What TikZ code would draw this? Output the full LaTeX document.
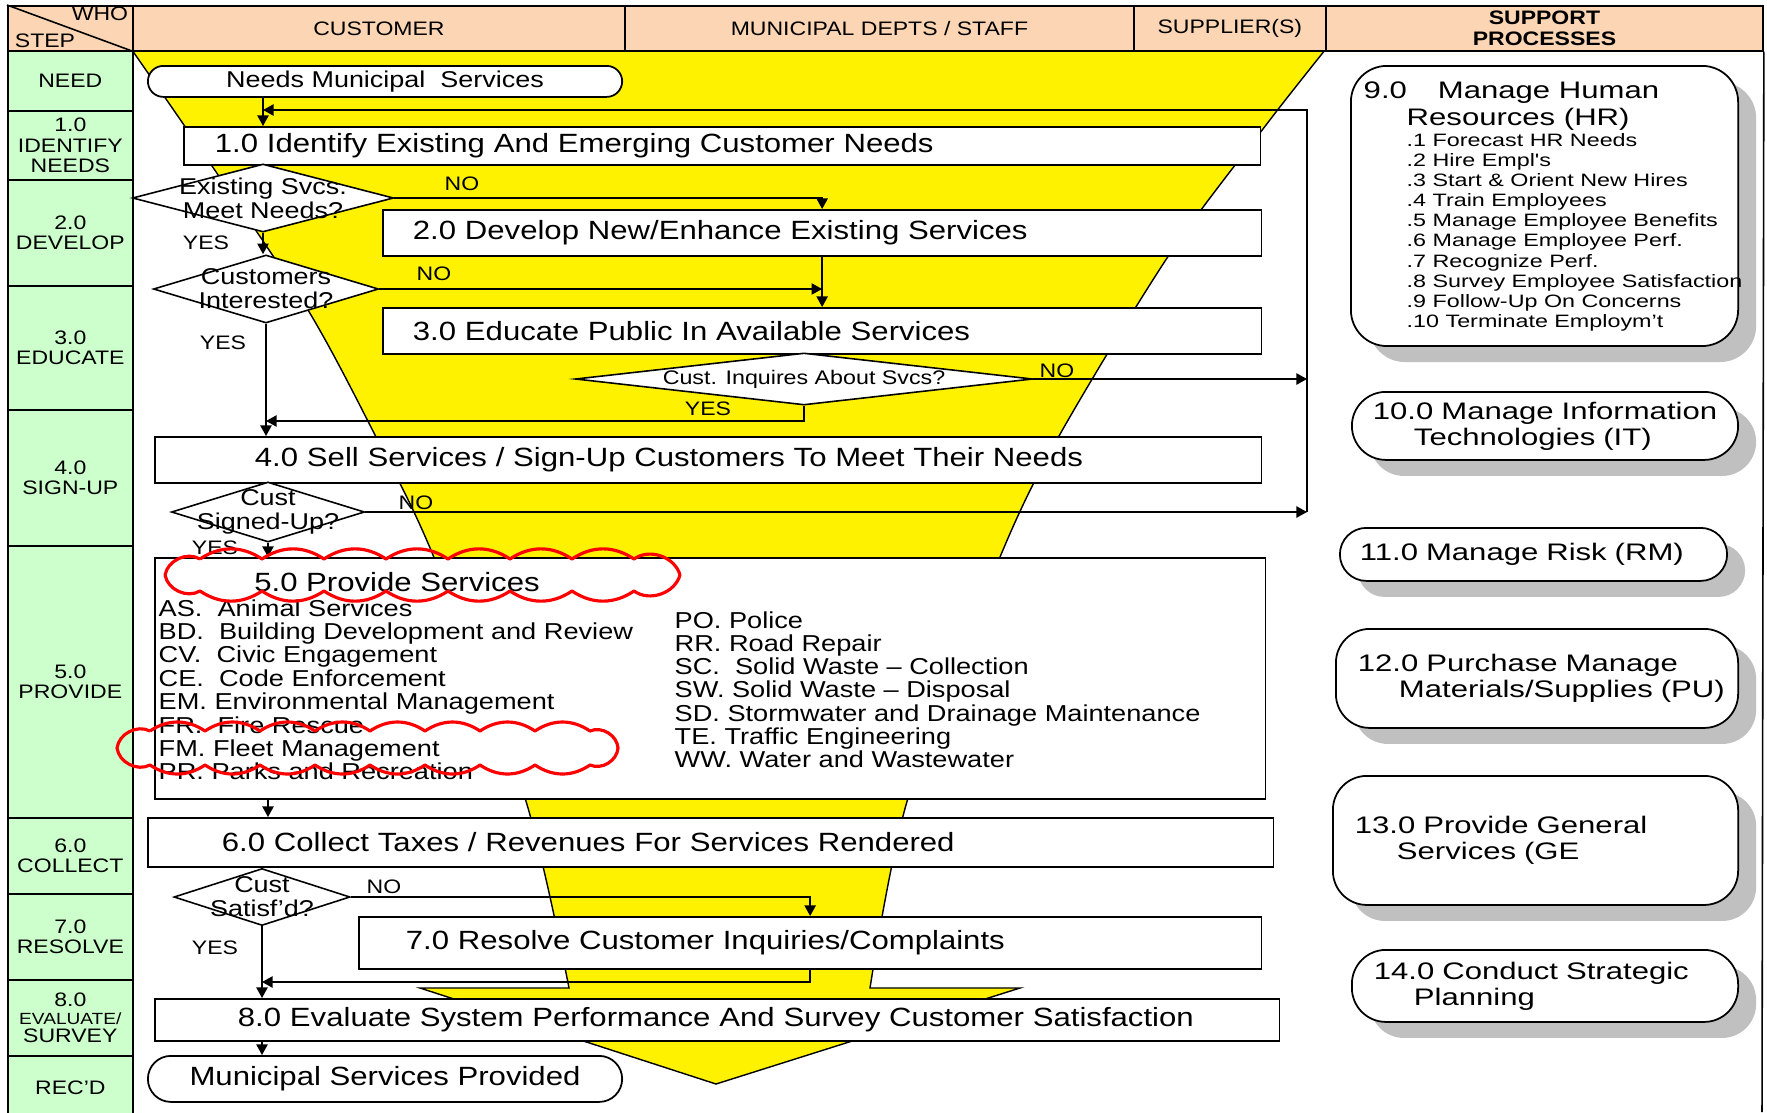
\documentclass[tikz,border=0pt]{standalone}
\usepackage{fontspec}
\setmainfont{Liberation Sans}[FakeStretch=1.18]
\newfontfamily\supfamily{Liberation Sans}[FakeStretch=1.3]
\usetikzlibrary{arrows.meta,shapes.geometric,shadows}

\definecolor{stepgreen}{RGB}{204,255,204}
\definecolor{headpeach}{RGB}{252,214,180}
\definecolor{shadegrey}{RGB}{192,192,192}

\newcommand\procfont{\fontsize{7.5}{8.5}\selectfont}
\newcommand\stepfont{\fontsize{5.55}{5.85}\selectfont}
\newcommand\askfont{\fontsize{6.5}{6.8}\selectfont}
\newcommand\itemfont{\fontsize{6.55}{6.65}\selectfont}
\newcommand\supfont{\supfamily\fontsize{6.8}{7.4}\selectfont}
\newcommand\hrfont{\supfamily\fontsize{5.1}{5.7}\selectfont}

\tikzset{
  funnel/.style={fill=yellow, draw=black, line width=0.4pt},
  headcell/.style={draw, fill=headpeach, anchor=north west, inner sep=0, font=\stepfont, line width=0.45pt},
  stepcell/.style={draw, fill=stepgreen, anchor=north west, inner sep=0, align=center, font=\stepfont, line width=0.45pt},
  procbox/.style={draw, fill=white, anchor=north west, inner sep=0, align=left, font=\procfont, line width=0.5pt},
  terminal/.style={draw, fill=white, anchor=north west, inner sep=0, line width=0.5pt},
  decision/.style={diamond, draw, fill=white, inner sep=0, line width=0.45pt},
  asktext/.style={font=\askfont, align=center, inner sep=0},
  lab/.style={font=\stepfont, inner sep=0},
  flow/.style={line width=0.4pt, -{Triangle[length=3pt,width=3.2pt]}},
  supbox/.style={draw, fill=white, anchor=north west, inner sep=0, align=left, font=\supfont, line width=0.5pt,
    drop shadow={shadow xshift=0.18cm, shadow yshift=-0.16cm, fill=shadegrey, opacity=1}},
  cloudline/.style={draw=red, line width=0.9pt, line join=round},
}

\begin{document}
\begin{tikzpicture}[x=0.01cm, y=-0.01cm]
    \useasboundingbox (0,0) rectangle (1767,1112);
    %% funnel
    \draw[funnel] plot[smooth] coordinates {(132,50) (210,163) (308,310) (375,435) (433,555) (525,798) (569,988)}
        -- (420,988) -- (716,1084) -- (1020,988) -- (870,988)
        -- plot[smooth] coordinates {(870,988) (908,798) (1000,557) (1059,436) (1169,255) (1266,125) (1325,50)} -- cycle;
    %% header
    \node[headcell, minimum width=1.25cm, minimum height=0.45cm] (corner) at (7,5) {};
    \draw[line width=0.45pt] (corner.north west) -- (corner.south east);
    \node[lab] (who) at (100,14) {WHO};
    \node[lab] (stp) at (45,41) {STEP};
    \node[headcell, minimum width=4.92cm, minimum height=0.45cm] (hcust) at (132,5) {CUSTOMER};
    \node[headcell, minimum width=5.09cm, minimum height=0.45cm] (hmuni) at (624,5) {MUNICIPAL DEPTS / STAFF};
    \node[headcell, minimum width=1.92cm, minimum height=0.45cm] (hsupp) at (1133,5) {SUPPLIER(S)};
    \node[headcell, minimum width=4.37cm, minimum height=0.45cm, align=center, font=\stepfont\bfseries] (hsup) at (1325,5) {SUPPORT\\PROCESSES};
    \draw[line width=0.45pt] (hsup.south east) -- (1762,1112);
    %% steps
    \node[stepcell, minimum width=1.25cm, minimum height=0.60cm] (sneed) at (7,50) {NEED};
    \node[stepcell, minimum width=1.25cm, minimum height=0.69cm] (sident) at (7,110) {1.0\\IDENTIFY\\NEEDS};
    \node[stepcell, minimum width=1.25cm, minimum height=1.06cm] (sdev) at (7,179) {2.0\\DEVELOP};
    \node[stepcell, minimum width=1.25cm, minimum height=1.24cm] (sedu) at (7,285) {3.0\\EDUCATE};
    \node[stepcell, minimum width=1.25cm, minimum height=1.36cm] (ssign) at (7,409) {4.0\\SIGN-UP};
    \node[stepcell, minimum width=1.25cm, minimum height=2.72cm] (sprov) at (7,545) {5.0\\PROVIDE};
    \node[stepcell, minimum width=1.25cm, minimum height=0.76cm] (scoll) at (7,817) {6.0\\COLLECT};
    \node[stepcell, minimum width=1.25cm, minimum height=0.86cm] (sres) at (7,893) {7.0\\RESOLVE};
    \node[stepcell, minimum width=1.25cm, minimum height=0.76cm, font=\fontsize{5.55}{5.1}\selectfont] (seval) at (7,979) {8.0\\{\fontsize{4.6}{5.1}\selectfont EVALUATE/}\\SURVEY};
    \node[stepcell, minimum width=1.25cm, minimum height=0.63cm] (srecd) at (7,1055) {REC'D};
    %% process boxes
    \node[terminal, rounded corners=0.155cm, minimum width=4.74cm, minimum height=0.31cm, font=\askfont] (tn1) at (147,65) {Needs Municipal\ \ Services};
    \node[procbox, text width=10.76cm, minimum height=0.38cm] (b1) at (183,126) {\hspace*{0.31cm}1.0 Identify Existing And Emerging Customer Needs};
    \node[procbox, text width=8.78cm, minimum height=0.46cm] (b2) at (382,209) {\hspace*{0.30cm}2.0 Develop New/Enhance Existing Services};
    \node[procbox, text width=8.78cm, minimum height=0.46cm] (b3) at (382,307) {\hspace*{0.30cm}3.0 Educate Public In Available Services};
    \node[procbox, text width=11.06cm, minimum height=0.46cm] (b4) at (154,436) {\hspace*{1.00cm}4.0 Sell Services / Sign-Up Customers To Meet Their Needs};
    \node[procbox, minimum width=11.10cm, minimum height=2.41cm] (b5) at (154,557) {};
    \node[procbox, text width=11.25cm, minimum height=0.49cm] (b6) at (147,817) {\hspace*{0.74cm}6.0 Collect Taxes / Revenues For Services Rendered};
    \node[procbox, text width=9.02cm, minimum height=0.52cm] (b7) at (358,916) {\hspace*{0.47cm}7.0 Resolve Customer Inquiries/Complaints};
    \node[procbox, text width=11.24cm, minimum height=0.42cm] (b8) at (154,998) {\hspace*{0.83cm}8.0 Evaluate System Performance And Survey Customer Satisfaction};
    \node[terminal, rounded corners=0.23cm, minimum width=4.74cm, minimum height=0.46cm, font=\procfont] (tn2) at (147,1055) {Municipal Services Provided};
    %% provide services list
    \node[font=\procfont, inner sep=0, anchor=base] (pt) at (397,591) {5.0 Provide Services};
    \foreach \t [count=\i] in {AS.\ \ Animal Services, BD.\ \ Building Development and Review, CV.\ \ Civic Engagement, CE.\ \ Code Enforcement, EM. Environmental Management, FR.\ \ Fire Rescue, FM. Fleet Management, PR. Parks and Recreation}
        \node[font=\itemfont, inner sep=0, anchor=base west] (pa\i) at (158,{592.6+23.4*\i}) {\t};
    \foreach \t [count=\i] in {PO. Police, RR. Road Repair, SC.\ \ Solid Waste – Collection, SW. Solid Waste – Disposal, SD. Stormwater and Drainage Maintenance, TE. Traffic Engineering, WW. Water and Wastewater}
        \node[font=\itemfont, inner sep=0, anchor=base west] (pb\i) at (674,{604.7+23.3*\i}) {\t};
    %% decisions
    \node[decision, minimum width=2.61cm, minimum height=0.68cm] (d1) at (263,198) {};
    \node[asktext] (d1t) at (d1) {Existing Svcs.\\Meet Needs?};
    \node[decision, minimum width=2.25cm, minimum height=0.68cm] (d2) at (266,289) {};
    \node[asktext] (d2t) at (d2) {Customers\\Interested?};
    \node[decision, minimum width=4.57cm, minimum height=0.52cm] (d3) at (804,379) {};
    \node[asktext, font=\fontsize{5.6}{6}\selectfont] (d3t) at (d3) {Cust. Inquires About Svcs?};
    \node[decision, minimum width=1.93cm, minimum height=0.60cm] (d4) at (268,512) {};
    \node[asktext] (d4t) at (d4) {Cust\\Signed-Up?};
    \node[decision, minimum width=1.76cm, minimum height=0.57cm] (d5) at (262,897) {};
    \node[asktext] (d5t) at (d5) {Cust\\Satisf'd?};
    %% connectors
    \coordinate (back) at (1307,110);
    \coordinate (j3) at (266,421);
    \coordinate (j7) at (262,982);
    \draw[flow] (d1.north |- tn1.south) -- (d1.north |- b1.north);
    \draw[flow] (d1.east) -| (b2.north);
    \draw[flow] (d1.south) -- (d1.south |- d2.north);
    \draw[flow] (b2.south) -- (b3.north);
    \draw[flow] (d2.east) -- (d2.east -| b2.south);
    \draw[flow] (d2.south) -- (d2.south |- b4.north);
    \draw[flow] (d3.east) -- (d3.east -| back);
    \draw[flow] (d3.south) |- (j3);
    \draw[flow] (d4.east) -- (d4.east -| back);
    \draw[flow] (d4.east -| back) -- (back) -- (back -| d1.north);
    \draw[flow] (d4.south) -- (d4.south |- b5.north);
    \draw[flow] (d4.south |- b5.south) -- (d4.south |- b6.north);
    \draw[flow] (d5.east) -| (b7.north);
    \draw[flow] (b7.south) |- (j7);
    \draw[flow] (d5.south) -- (d5.south |- b8.north);
    \draw[flow] (d5.south |- b8.south) -- (d5.south |- tn2.north);
    %% yes / no
    \node[lab] (n1) at (462,184) {NO};
    \node[lab] (y1) at (206,243) {YES};
    \node[lab] (n2) at (434,274) {NO};
    \node[lab] (y2) at (223,343) {YES};
    \node[lab] (n3) at (1057,371) {NO};
    \node[lab] (y3) at (708,409) {YES};
    \node[lab] (n4) at (416,503) {NO};
    \node[lab] (y4) at (215,548) {YES};
    \node[lab] (n5) at (384,887) {NO};
    \node[lab] (y5) at (215,948) {YES};
    %% support processes
    \node[supbox, rounded corners=0.36cm, text width=3.87cm, minimum height=2.80cm] (hr) at (1350,65) {};
    \node[font=\supfont, inner sep=0, anchor=base west] (hrt) at (1363,98.6) {9.0\hspace{0.31cm}Manage Human};
    \node[font=\supfont, inner sep=0, anchor=base west] (hrs) at (1406,125.3) {Resources (HR)};
    \foreach \t [count=\i] in {Forecast HR Needs, Hire Empl's, Start \& Orient New Hires, Train Employees, Manage Employee Benefits, Manage Employee Perf., Recognize Perf., Survey Employee Satisfaction, Follow-Up On Concerns, Terminate Employm’t}
        \node[font=\hrfont, inner sep=0, anchor=base west] (hr\i) at (1406,{126.3+20.1*\i}) {.\i\ \t};
    \node[supbox, rounded corners=0.34cm, text width=3.86cm, minimum height=0.68cm] (it) at (1351,391) {\hspace*{0.21cm}10.0 Manage Information\\\hspace*{0.62cm}Technologies (IT)};
    \node[supbox, rounded corners=0.265cm, text width=3.87cm, minimum height=0.53cm] (rm) at (1339,527) {\hspace*{0.20cm}11.0 Manage Risk (RM)};
    \node[supbox, rounded corners=0.34cm, text width=4.02cm, minimum height=0.99cm] (pu) at (1335,628) {\hspace*{0.22cm}12.0 Purchase Manage\\\hspace*{0.63cm}Materials/Supplies (PU)};
    \node[supbox, rounded corners=0.34cm, text width=4.05cm, minimum height=1.29cm] (ge) at (1332,775) {\hspace*{0.22cm}13.0 Provide General\\\hspace*{0.64cm}Services (GE};
    \node[supbox, rounded corners=0.34cm, text width=3.86cm, minimum height=0.72cm] (sp) at (1351,949) {\hspace*{0.22cm}14.0 Conduct Strategic\\\hspace*{0.62cm}Planning};
    %% clouds
    \draw[cloudline] (200,559) \foreach \k in {1,...,7} { to[bend left=34] ({200+62*\k},559) }
        to[bend left=55] (680,575) to[bend left=55] (634,591)
        \foreach \k in {1,...,7} { to[bend left=34] ({634-62*\k},591) }
        to[bend left=55] (165,575) to[bend left=55] (200,559);
    \draw[cloudline] (150,731) \foreach \k in {1,...,8} { to[bend left=34] ({150+55*\k},731) }
        to[bend left=55] (618,748) to[bend left=55] (590,765)
        \foreach \k in {1,...,8} { to[bend left=34] ({590-55*\k},765) }
        to[bend left=55] (117,748) to[bend left=55] (150,731);
\end{tikzpicture}
\end{document}
